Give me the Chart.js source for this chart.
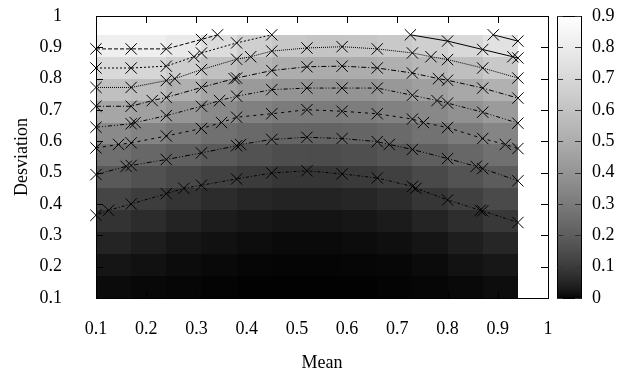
<!DOCTYPE html>
<html><head><meta charset="utf-8">
<script src="https://cdn.jsdelivr.net/npm/chart.js@4/dist/chart.umd.min.js"></script>
<style>html,body{margin:0;padding:0;background:#fff}#wrap{width:629px;height:374px}</style>
</head><body><div id="wrap"><canvas id="c" width="629" height="374"></canvas></div>
<script>
// ---- data ----
const meanGrid = [0.10, 0.17, 0.24, 0.31, 0.38, 0.45, 0.52, 0.59, 0.66, 0.73, 0.80, 0.87, 0.94];
const devGrid  = [0.10, 0.17, 0.24, 0.31, 0.38, 0.45, 0.52, 0.59, 0.66, 0.73, 0.80, 0.87, 0.94];
// value at each grid node, one row per deviation (bottom row first)
const gridValues = [
  [0.005,0.003,0.002,0.001,0.000,0.000,0.000,0.000,0.000,0.001,0.002,0.004,0.006],
  [0.015,0.010,0.006,0.004,0.002,0.001,0.001,0.001,0.002,0.003,0.006,0.012,0.018],
  [0.035,0.027,0.018,0.010,0.007,0.004,0.003,0.004,0.005,0.008,0.017,0.030,0.040],
  [0.070,0.055,0.040,0.025,0.018,0.012,0.010,0.012,0.015,0.022,0.040,0.060,0.080],
  [0.110,0.090,0.070,0.050,0.040,0.030,0.028,0.030,0.035,0.050,0.075,0.100,0.130],
  [0.170,0.140,0.120,0.090,0.075,0.065,0.060,0.065,0.075,0.095,0.130,0.150,0.180],
  [0.230,0.200,0.180,0.160,0.140,0.120,0.110,0.120,0.130,0.150,0.180,0.210,0.240],
  [0.320,0.290,0.260,0.230,0.210,0.190,0.180,0.180,0.190,0.220,0.250,0.280,0.320],
  [0.420,0.410,0.370,0.330,0.280,0.270,0.250,0.260,0.270,0.290,0.320,0.360,0.400],
  [0.530,0.530,0.480,0.430,0.380,0.350,0.340,0.350,0.350,0.380,0.410,0.450,0.490],
  [0.650,0.650,0.610,0.550,0.500,0.460,0.440,0.440,0.450,0.470,0.510,0.550,0.600],
  [0.760,0.760,0.750,0.680,0.620,0.570,0.550,0.550,0.560,0.580,0.620,0.660,0.710],
  [0.870,0.870,0.880,0.830,0.750,0.700,0.670,0.660,0.670,0.700,0.730,0.790,0.840]
];
// contour lines: [mean, deviation] crossing points
const contourA = [[0.1,0.895],[0.17,0.895],[0.24,0.895],[0.31,0.925],[0.342,0.94]];
const contourB = [[0.1,0.834],[0.17,0.834],[0.24,0.84],[0.295,0.87],[0.31,0.882],[0.38,0.914],[0.45,0.94]];
const contourC = [[0.1,0.772],[0.17,0.772],[0.24,0.794],[0.257,0.80],[0.31,0.829],[0.38,0.862],[0.408,0.87],[0.45,0.888],[0.52,0.898],[0.59,0.902],[0.66,0.895],[0.73,0.882],[0.767,0.87],[0.80,0.861],[0.87,0.834],[0.94,0.802]];
const contourD = [[0.1,0.712],[0.17,0.712],[0.212,0.73],[0.24,0.74],[0.31,0.772],[0.375,0.80],[0.38,0.802],[0.45,0.826],[0.52,0.838],[0.59,0.84],[0.66,0.834],[0.73,0.818],[0.782,0.80],[0.80,0.795],[0.87,0.77],[0.94,0.738]];
const contourE = [[0.1,0.645],[0.17,0.656],[0.178,0.66],[0.24,0.682],[0.31,0.712],[0.346,0.73],[0.38,0.744],[0.45,0.765],[0.52,0.77],[0.59,0.77],[0.66,0.77],[0.73,0.747],[0.779,0.73],[0.80,0.722],[0.87,0.693],[0.94,0.658]];
const contourF = [[0.1,0.579],[0.145,0.59],[0.17,0.595],[0.24,0.617],[0.31,0.641],[0.35,0.66],[0.38,0.677],[0.45,0.688],[0.52,0.701],[0.59,0.696],[0.66,0.688],[0.73,0.671],[0.752,0.66],[0.80,0.644],[0.87,0.609],[0.915,0.59],[0.94,0.577]];
const contourG = [[0.1,0.494],[0.16,0.52],[0.17,0.523],[0.24,0.542],[0.31,0.563],[0.38,0.586],[0.388,0.59],[0.45,0.606],[0.52,0.613],[0.59,0.609],[0.66,0.599],[0.684,0.59],[0.73,0.574],[0.80,0.545],[0.857,0.52],[0.87,0.513],[0.94,0.474]];
const contourH = [[0.1,0.364],[0.125,0.38],[0.17,0.40],[0.24,0.433],[0.275,0.45],[0.31,0.46],[0.38,0.48],[0.45,0.499],[0.52,0.506],[0.59,0.496],[0.66,0.483],[0.73,0.456],[0.737,0.45],[0.80,0.413],[0.865,0.38],[0.87,0.378],[0.94,0.341]];
const contourS = [[0.726,0.94],[0.80,0.92],[0.87,0.893],[0.93,0.87],[0.94,0.866]];
const contourT = [[0.891,0.94],[0.94,0.92]];
const xTicks = [0.1,0.2,0.3,0.4,0.5,0.6,0.7,0.8,0.9,1];
const yTicks = [0.1,0.2,0.3,0.4,0.5,0.6,0.7,0.8,0.9,1];
const cbTicks = [0,0.1,0.2,0.3,0.4,0.5,0.6,0.7,0.8,0.9];
const cbMin = 0, cbMax = 0.9;

// ---- styling ----
const FONT = "'Liberation Serif','Times New Roman',serif";
const GAMMA = 1.5;
function grayFor(v){
  const t = Math.max(0, Math.min(1, (v - cbMin) / (cbMax - cbMin)));
  const g = Math.round(255 * Math.pow(t, 1 / GAMMA));
  return 'rgb(' + g + ',' + g + ',' + g + ')';
}
const fmt = v => String(Math.round(v * 10) / 10);

const heatmapPlugin = {
  id: 'heatmap',
  beforeDatasetsDraw(chart){
    const {ctx, scales:{x, y}} = chart;
    ctx.save();
    for (let i = 0; i < devGrid.length - 1; i++){
      for (let j = 0; j < meanGrid.length - 1; j++){
        const v = (gridValues[i][j] + gridValues[i][j+1] + gridValues[i+1][j] + gridValues[i+1][j+1]) / 4;
        const x0 = Math.round(x.getPixelForValue(meanGrid[j]));
        const x1 = Math.round(x.getPixelForValue(meanGrid[j+1]));
        const y0 = Math.round(y.getPixelForValue(devGrid[i]));
        const y1 = Math.round(y.getPixelForValue(devGrid[i+1]));
        ctx.fillStyle = grayFor(v);
        ctx.fillRect(x0, y1, x1 - x0, y0 - y1);
      }
    }
    // frame and inner ticks
    const a = chart.chartArea;
    ctx.strokeStyle = '#000';
    ctx.lineWidth = 1;
    ctx.beginPath();
    const TL = 7;
    xTicks.forEach(t => {
      const px = Math.round(x.getPixelForValue(t)) + 0.5;
      ctx.moveTo(px, a.bottom); ctx.lineTo(px, a.bottom - TL);
      ctx.moveTo(px, a.top); ctx.lineTo(px, a.top + TL);
    });
    yTicks.forEach(t => {
      const py = Math.round(y.getPixelForValue(t)) + 0.5;
      ctx.moveTo(a.left, py); ctx.lineTo(a.left + TL, py);
      ctx.moveTo(a.right, py); ctx.lineTo(a.right - TL, py);
    });
    ctx.stroke();
    ctx.strokeRect(Math.round(a.left) + 0.5, Math.round(a.top) + 0.5, Math.round(a.right - a.left), Math.round(a.bottom - a.top));
    ctx.restore();
  }
};

const colorbarPlugin = {
  id: 'colorbar',
  afterDraw(chart){
    const {ctx} = chart;
    const cb = chart.scales.cb;
    const left = Math.round(cb.left) + 9, right = Math.round(cb.left) + 33;
    const top = Math.round(cb.getPixelForValue(cbMax)), bottom = Math.round(cb.getPixelForValue(cbMin));
    ctx.save();
    for (let py = top; py < bottom; py++){
      ctx.fillStyle = grayFor(cb.getValueForPixel(py + 0.5));
      ctx.fillRect(left, py, right - left, 1);
    }
    ctx.strokeStyle = '#000';
    ctx.lineWidth = 1;
    ctx.strokeRect(left + 0.5, top + 0.5, right - left, bottom - top);
    ctx.beginPath();
    cbTicks.forEach(t => {
      const py = Math.round(cb.getPixelForValue(t)) + 0.5;
      ctx.moveTo(left, py); ctx.lineTo(left + 6, py);
      ctx.moveTo(right, py); ctx.lineTo(right - 6, py);
    });
    ctx.strokeStyle = '#333';
    ctx.stroke();
    ctx.restore();
  }
};

function contourSet(points, dash){
  return {
    data: points.map(p => ({x: p[0], y: p[1]})),
    showLine: true,
    borderColor: '#000',
    borderWidth: 1,
    borderDash: dash,
    pointStyle: 'crossRot',
    pointRadius: 8,
    pointBorderWidth: 1,
    pointBorderColor: '#000',
    pointBackgroundColor: 'rgba(0,0,0,0)',
    tension: 0,
    clip: false
  };
}
function noPad(s){ s.paddingTop = 0; s.paddingBottom = 0; s.paddingLeft = 0; s.paddingRight = 0; }

const tickFont = {family: FONT, size: 18};
new Chart(document.getElementById('c'), {
  type: 'scatter',
  data: {
    datasets: [
      contourSet(contourS, []),
      contourSet(contourT, []),
      contourSet(contourA, [4,2]),
      contourSet(contourB, [2,2]),
      contourSet(contourC, [1,1]),
      contourSet(contourD, [5,2,1,2]),
      contourSet(contourE, [4,2,1,2,1,2]),
      contourSet(contourF, [3,4]),
      contourSet(contourG, [5,2,1,2,1,2]),
      contourSet(contourH, [1,2,3,2])
    ]
  },
  options: {
    responsive: false,
    animation: false,
    devicePixelRatio: 1,
    events: [],
    layout: {padding: {top: 16, left: 0, right: 0, bottom: 0}},
    plugins: {legend: {display: false}, tooltip: {enabled: false}},
    scales: {
      x: {
        type: 'linear', position: 'bottom', min: 0.1, max: 1,
        grid: {display: false, drawTicks: false}, border: {display: false},
        ticks: {stepSize: 0.1, callback: fmt, font: tickFont, color: '#000', padding: 20, maxRotation: 0, autoSkip: false},
        title: {display: true, text: 'Mean', font: tickFont, color: '#000', padding: {top: 0, bottom: 0}},
        afterFit(s){ s.height = 76; noPad(s); }
      },
      y: {
        type: 'linear', position: 'left', min: 0.1, max: 1,
        grid: {display: false, drawTicks: false}, border: {display: false},
        ticks: {stepSize: 0.1, callback: fmt, font: tickFont, color: '#000', padding: 34, autoSkip: false},
        title: {display: true, text: 'Desviation', font: tickFont, color: '#000', padding: {top: 11, bottom: 0}},
        afterFit(s){ s.width = 96; noPad(s); }
      },
      cb: {
        type: 'linear', position: 'right', min: cbMin, max: cbMax,
        grid: {display: false, drawTicks: false}, border: {display: false},
        ticks: {stepSize: 0.1, callback: fmt, font: tickFont, color: '#000', padding: 44, autoSkip: false},
        afterFit(s){ s.width = 81; noPad(s); }
      }
    }
  },
  plugins: [heatmapPlugin, colorbarPlugin]
});
</script>
</body></html>
